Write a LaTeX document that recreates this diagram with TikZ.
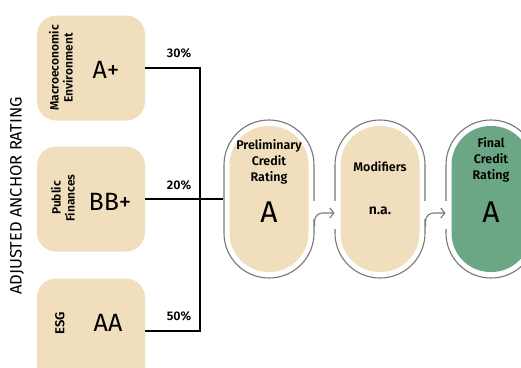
\documentclass[tikz,border=0pt]{standalone}
\usepackage{fontspec}
\setmainfont{Fira Sans}[BoldFont={Fira Sans SemiBold}]
\usetikzlibrary{arrows.meta}
\definecolor{sand}{RGB}{241,222,189}
\definecolor{sage}{RGB}{107,167,132}
\definecolor{rim}{RGB}{120,120,120}

\begin{document}
\begin{tikzpicture}[x=1pt, y=-1pt,
    every node/.style={inner sep=0pt, text=black},
    factor/.style={fill=sand, rounded corners=19pt, minimum width=108pt, minimum height=105pt},
    ring/.style={draw=rim, line width=1.1pt, rounded corners=44.9pt, minimum width=90pt, minimum height=158pt},
    core/.style={fill=sand, rounded corners=39pt, minimum width=79pt, minimum height=146pt},
    side/.style={rotate=90, align=center, font=\fontsize{12}{14}\selectfont\bfseries},
    grade/.style={font=\fontsize{25}{25}\selectfont},
    bigrade/.style={font=\fontsize{30}{30}\selectfont},
    head/.style={align=center, font=\fontsize{12.5}{16}\selectfont\bfseries},
    weight/.style={font=\fontsize{12.5}{14}\selectfont\bfseries},
    link/.style={line width=1.2pt},
    gap/.style={fill=white},
    hop/.style={draw=rim, line width=1.1pt, rounded corners=8pt, -{Straight Barb[length=4pt, width=10pt]}},
    ]
  \useasboundingbox (0,0) rectangle (521,367);
  \clip (0,0) rectangle (521,367);

  % side title
  \node[rotate=90, font=\fontsize{16.5}{18}\selectfont] (title) at (17,196) {ADJUSTED ANCHOR RATING};

  % rating factors
  \node[factor] (mac) at (91,68) {};
  \node[side] (mactxt) at (61,68) {Macroeconomic\\Environment};
  \node[grade] (macval) at (106,70) {A+};

  \node[factor] (pub) at (91,199) {};
  \node[side] (pubtxt) at (63,198) {Public\\Finances};
  \node[grade] (pubval) at (110,202) {BB+};

  \node[factor] (esg) at (91,331) {};
  \node[side, font=\fontsize{13}{14}\selectfont\bfseries] (esgtxt) at (60,323) {ESG};
  \node[grade] (esgval) at (108,323) {AA};

  % weights
  \node[weight] (w1) at (179,53) {30\%};
  \node[weight] (w2) at (179,185) {20\%};
  \node[weight] (w3) at (179,316) {50\%};

  % rating steps
  \node[ring] (prelring) at (269,199) {};
  \node[ring] (modring) at (380,199) {};
  \node[ring] (finring) at (491,199) {};

  \fill[gap] ([xshift=-4pt,yshift=-2pt]prelring.east) rectangle ([xshift=4pt,yshift=-20pt]prelring.east);
  \fill[gap] ([xshift=-4pt,yshift=-2pt]modring.west) rectangle ([xshift=4pt,yshift=-30pt]modring.west);
  \fill[gap] ([xshift=-4pt,yshift=-2pt]modring.east) rectangle ([xshift=4pt,yshift=-20pt]modring.east);
  \fill[gap] ([xshift=-4pt,yshift=-2pt]finring.west) rectangle ([xshift=4pt,yshift=-30pt]finring.west);

  \node[core] (prel) at (269,199) {};
  \node[core] (modi) at (380,199) {};
  \node[core, fill=sage] (fin) at (491,199) {};

  \node[head] (prelhead) at (269,162) {Preliminary\\Credit\\Rating};
  \node[bigrade] (prelval) at (269,212) {A};
  \node[head] (modihead) at (380,167) {Modifiers};
  \node[head, font=\fontsize{14}{16}\selectfont\bfseries] (modival) at (380,211) {n.a.};
  \node[head] (finhead) at (491,160) {Final\\Credit\\Rating};
  \node[bigrade] (finval) at (491,212) {A};

  % connectors
  \coordinate (jn) at (200,199);
  \draw[link] (mac.east) -| (jn) |- (esg.east);
  \draw[link] (pub.east) -- (prelring.west);
  \draw[hop] ([yshift=-27pt]prelring.east) |- ([yshift=-14pt]modring.west);
  \draw[hop] ([yshift=-27pt]modring.east) |- ([yshift=-14pt]finring.west);
\end{tikzpicture}
\end{document}
